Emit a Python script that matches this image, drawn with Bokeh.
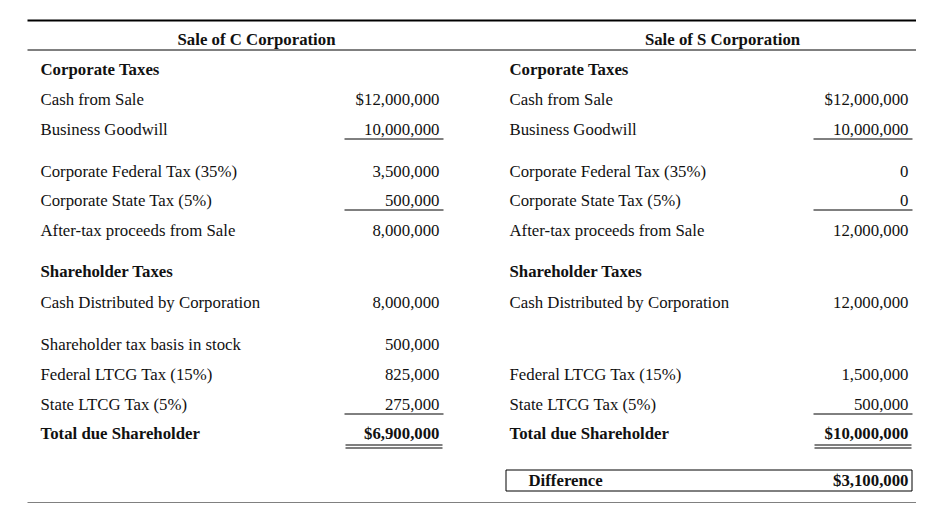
from bokeh.plotting import figure
from bokeh.models import Range1d, ColumnDataSource
from bokeh.core.properties import value
from bokeh.embed import file_html
from bokeh.resources import INLINE

# ---- data ----
titles = ["Sale of C Corporation", "Sale of S Corporation"]
section_heads = ["Corporate Taxes", "Shareholder Taxes"]
row_labels = ["Cash from Sale", "Business Goodwill", "Corporate Federal Tax (35%)",
              "Corporate State Tax (5%)", "After-tax proceeds from Sale",
              "Cash Distributed by Corporation", "Shareholder tax basis in stock",
              "Federal LTCG Tax (15%)", "State LTCG Tax (5%)", "Total due Shareholder"]
c_values = [12000000, 10000000, 3500000, 500000, 8000000, 8000000, 500000, 825000, 275000, 6900000]
s_values = [12000000, 10000000, 0, 0, 12000000, 12000000, None, 1500000, 500000, 10000000]
dollar_rows = [0, 9]
bold_rows = [9]
difference_label = "Difference"
difference_value = 3100000

# ---- layout (page pixel coordinates) ----
FONT = value("Liberation Serif")
INK = "#111111"
FS = "16.8px"
head_y = [69, 271]
row_y = [99, 129, 171, 200, 230, 302, 344, 374, 404, 433]
single_rule_rows = [1, 3, 8]
double_rule_rows = [9]
col_label_x = [40, 509]
col_value_x = [439, 908]
col_rule = [(344, 443), (813, 912)]
title_x = [256, 722]

p = figure(width=916, height=503, output_backend="svg", toolbar_location=None,
           x_range=Range1d(0, 916), y_range=Range1d(503, 0), min_border=0)
p.axis.visible = False
p.grid.visible = False
p.outline_line_color = None
p.background_fill_color = "white"
p.border_fill_color = "white"

def fmt(v, i):
    if v is None:
        return ""
    s = f"{v:,}"
    return ("$" + s) if i in dollar_rows else s

# titles
p.text(x=title_x, y=[38.5] * 2, text=titles, text_font=FONT, text_font_style="bold",
       text_font_size=FS, text_align="center", text_baseline="middle", text_color=INK)

# section headings
hx, hy, ht = [], [], []
for c in range(2):
    for j, h in enumerate(section_heads):
        hx.append(col_label_x[c]); hy.append(head_y[j]); ht.append(h)
p.text(x=hx, y=hy, text=ht, text_font=FONT, text_font_style="bold", text_font_size=FS,
       text_align="left", text_baseline="middle", text_color=INK)

# rows
for c, vals in enumerate([c_values, s_values]):
    lt, lb, vt, vb = [], [], [], []
    for i, lab in enumerate(row_labels):
        v = vals[i]
        if v is None:
            continue
        (lb if i in bold_rows else lt).append((lab, row_y[i]))
        (vb if i in bold_rows else vt).append((fmt(v, i), row_y[i]))
    for items, style, x, align in [(lt, "normal", col_label_x[c], "left"),
                                   (lb, "bold", col_label_x[c], "left"),
                                   (vt, "normal", col_value_x[c], "right"),
                                   (vb, "bold", col_value_x[c], "right")]:
        if not items:
            continue
        src = ColumnDataSource(dict(x=[x] * len(items), y=[t[1] for t in items],
                                    t=[t[0] for t in items]))
        p.text(x="x", y="y", text="t", source=src, text_font=FONT, text_font_style=style,
               text_font_size=FS, text_align=align, text_baseline="middle", text_color=INK)

# rules
p.segment(x0=[27], y0=[20], x1=[921], y1=[20], line_color="black", line_width=2)
p.segment(x0=[27], y0=[49.5], x1=[921], y1=[49.5], line_color="black", line_width=1)
p.segment(x0=[27], y0=[502.5], x1=[920], y1=[502.5], line_color="black", line_width=1)
sx0, sx1, sy = [], [], []
for c in range(2):
    for i in single_rule_rows:
        sx0.append(col_rule[c][0]); sx1.append(col_rule[c][1]); sy.append(row_y[i] + 9.5)
    for i in double_rule_rows:
        for off in (11.5, 14.5):
            sx0.append(col_rule[c][0] + 1); sx1.append(col_rule[c][1] - 1); sy.append(row_y[i] + off)
p.segment(x0=sx0, y0=sy, x1=sx1, y1=sy, line_color="black", line_width=1)

# difference box
p.quad(left=[505.5], right=[911.5], top=[469.5], bottom=[490.5], fill_color=None,
       line_color="black", line_width=1)
p.text(x=[528], y=[479.5], text=[difference_label], text_font=FONT, text_font_style="bold",
       text_font_size=FS, text_align="left", text_baseline="middle", text_color=INK)
p.text(x=[908], y=[479.5], text=["$" + f"{difference_value:,}"], text_font=FONT,
       text_font_style="bold", text_font_size=FS, text_align="right",
       text_baseline="middle", text_color=INK)

open("out.html", "w").write(file_html(p, INLINE))
